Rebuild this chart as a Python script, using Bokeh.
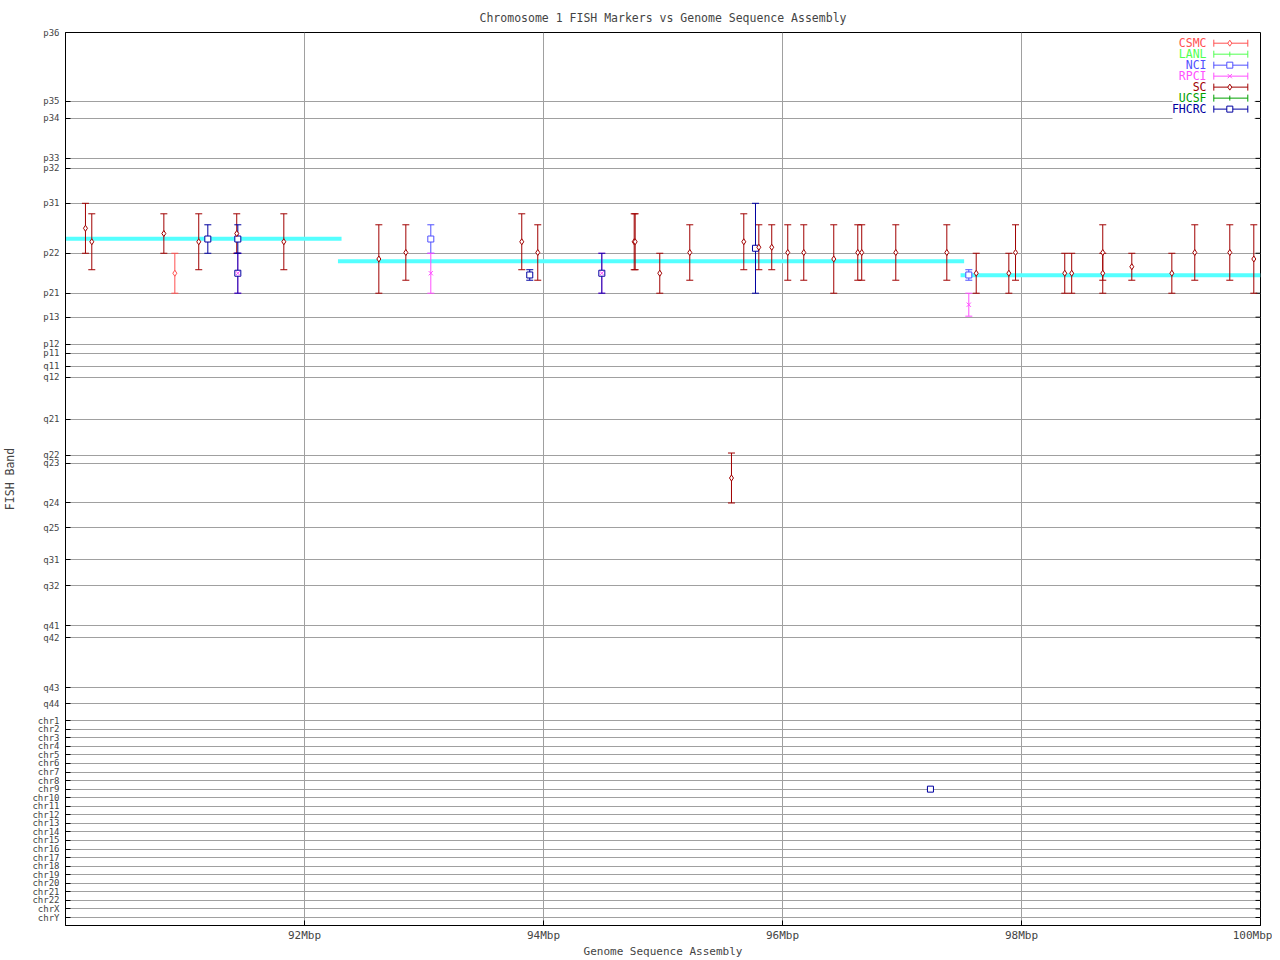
import math
from bokeh.plotting import figure
from bokeh.models import Range1d, FixedTicker, CustomJSTickFormatter
from bokeh.core.properties import value
from bokeh.embed import file_html
from bokeh.resources import INLINE

FONT = "DejaVu Sans Mono"

# ---------------- data ----------------
# FISH band scale (cytogenetic position units, p-ter at 0)
band_labels = ["p36", "p35", "p34", "p33", "p32", "p31", "p22", "p21", "p13", "p12", "p11",
               "q11", "q12", "q21", "q22", "q23", "q24", "q25", "q31", "q32", "q41", "q42",
               "q43", "q44",
               "chr1", "chr2", "chr3", "chr4", "chr5", "chr6", "chr7", "chr8", "chr9", "chr10",
               "chr11", "chr12", "chr13", "chr14", "chr15", "chr16", "chr17", "chr18", "chr19",
               "chr20", "chr21", "chr22", "chrX", "chrY"]
band_pos = [0, 69, 86, 126, 136, 171, 221, 261, 285, 312, 321,
            334, 345, 387, 423, 431, 471, 496, 528, 554, 594, 606,
            656, 672,
            689.0, 697.6, 706.1, 714.7, 723.3, 731.8, 740.4, 749.0, 757.5, 766.1,
            774.7, 783.2, 791.8, 800.3, 808.9, 817.5, 826.0, 834.6, 843.2,
            851.7, 860.3, 868.9, 877.4, 886.0]

x_ticks_mbp = [92, 94, 96, 98, 100]

# genome sequence assembly placement (cyan)
asm_x0 = [90.00, 92.28, 97.49]
asm_x1 = [92.31, 97.52, 100.00]
asm_band = [206.5, 229.0, 243.0]

# FISH markers per lab: position (Mbp), band interval low / high
csmc_x = [90.915]
csmc_lo = [221]
csmc_hi = [261]

lanl_x = []
lanl_lo = []
lanl_hi = []

nci_x = [93.057, 97.559]
nci_lo = [192.5, 237.5]
nci_hi = [221, 248]

rpci_x = [91.442, 93.057, 94.488, 97.559]
rpci_lo = [221, 221, 221, 261]
rpci_hi = [261, 261, 261, 284]

sc_x = [90.167, 90.220, 90.823, 91.115, 91.433, 91.827, 92.622, 92.848, 93.818, 93.952,
        94.759, 94.767, 94.973, 95.224, 95.573, 95.676, 95.802, 95.910, 96.044, 96.178,
        96.429, 96.630, 96.663, 96.948, 97.375, 97.621, 97.894, 97.950, 98.362, 98.420,
        98.680, 98.680, 98.923, 99.258, 99.450, 99.743, 99.944]
sc_lo = [171, 181.5, 181.5, 181.5, 181.5, 181.5, 192.5, 192.5, 181.5, 192.5,
         181.5, 181.5, 221, 192.5, 421, 181.5, 192.5, 192.5, 192.5, 192.5,
         192.5, 192.5, 192.5, 192.5, 192.5, 221, 221, 192.5, 221, 221,
         192.5, 221, 221, 221, 192.5, 192.5, 192.5]
sc_hi = [221, 237.5, 221, 237.5, 221, 237.5, 261, 248, 237.5, 248,
         237.5, 237.5, 261, 248, 471, 237.5, 237.5, 237.5, 248, 248,
         261, 248, 248, 248, 248, 261, 261, 248, 261, 261,
         248, 261, 248, 261, 248, 248, 261]

ucsf_x = []
ucsf_lo = []
ucsf_hi = []

fhcrc_x = [91.191, 91.442, 91.442, 93.885, 94.488, 95.774, 97.238]
fhcrc_lo = [192.5, 192.5, 221, 237.5, 221, 171, 757.5]
fhcrc_hi = [221, 221, 261, 248, 261, 261, 757.5]

labs = ["CSMC", "LANL", "NCI", "RPCI", "SC", "UCSF", "FHCRC"]
lab_colors = {"CSMC": "#ff5050", "LANL": "#50ff50", "NCI": "#5050ff", "RPCI": "#ff50ff",
              "SC": "#a00000", "UCSF": "#00a000", "FHCRC": "#0000a0"}
lab_markers = {"CSMC": "diamond", "LANL": "tick", "NCI": "square", "RPCI": "x",
               "SC": "diamond", "UCSF": "tick", "FHCRC": "square"}
lab_data = {"CSMC": (csmc_x, csmc_lo, csmc_hi), "LANL": (lanl_x, lanl_lo, lanl_hi),
            "NCI": (nci_x, nci_lo, nci_hi), "RPCI": (rpci_x, rpci_lo, rpci_hi),
            "SC": (sc_x, sc_lo, sc_hi), "UCSF": (ucsf_x, ucsf_lo, ucsf_hi),
            "FHCRC": (fhcrc_x, fhcrc_lo, fhcrc_hi)}

# ---------------- figure ----------------
X0, X1 = 90.0, 100.0
Y_TOP, Y_BOT = 0.0, 894.0

p = figure(width=1272, height=960, x_range=Range1d(X0, X1), y_range=Range1d(Y_BOT, Y_TOP),
           output_backend="svg", toolbar_location=None,
           min_border_left=65, min_border_right=12, min_border_top=32, min_border_bottom=34)

p.title.text = "Chromosome 1 FISH Markers vs Genome Sequence Assembly"
p.title.align = "center"
p.title.text_font = FONT
p.title.text_font_size = "11.5px"
p.title.text_font_style = "normal"
p.title.standoff = 16

p.outline_line_color = "black"
p.outline_line_alpha = 1.0
p.background_fill_color = "white"
p.border_fill_color = "white"

# x axis
p.xaxis.ticker = FixedTicker(ticks=x_ticks_mbp)
p.xaxis.formatter = CustomJSTickFormatter(code="return tick + 'Mbp';")
p.xaxis.axis_label = "Genome Sequence Assembly"
p.xaxis.axis_label_text_font = FONT
p.xaxis.axis_label_text_font_size = "11px"
p.xaxis.axis_label_text_font_style = "normal"
p.xaxis.axis_label_standoff = 0
p.xaxis.major_label_text_font = FONT
p.xaxis.major_label_text_font_size = "11px"
p.xaxis.major_label_standoff = 3
p.xaxis.major_tick_in = 5
p.xaxis.major_tick_out = 0
p.xaxis.minor_tick_line_color = None
p.xaxis.axis_line_color = "black"

# y axis
fmt = CustomJSTickFormatter(args=dict(labels=band_labels, pos=band_pos), code="""
let best = 0, bd = 1e12;
for (let i = 0; i < pos.length; i++) {
  const d = Math.abs(pos[i] - tick);
  if (d < bd) { bd = d; best = i; }
}
return labels[best];
""")
p.yaxis.ticker = FixedTicker(ticks=band_pos)
p.yaxis.formatter = fmt
p.yaxis.axis_label = "FISH Band"
p.yaxis.axis_label_text_font = FONT
p.yaxis.axis_label_text_font_size = "11.5px"
p.yaxis.axis_label_text_font_style = "normal"
p.yaxis.axis_label_standoff = 12
p.yaxis.major_label_text_font = FONT
p.yaxis.major_label_text_font_size = "9px"
p.yaxis.major_label_standoff = 6
p.yaxis.major_tick_in = 5
p.yaxis.major_tick_out = 0
p.yaxis.minor_tick_line_color = None
p.yaxis.axis_line_color = "black"

p.xgrid.ticker = FixedTicker(ticks=x_ticks_mbp)
p.ygrid.ticker = FixedTicker(ticks=band_pos)
p.xgrid.grid_line_color = "#a0a0a0"
p.ygrid.grid_line_color = "#a0a0a0"

px_per_mbp = 1195 / 10.0


def lx(px):  # pixel offset from page left -> x coordinate (layout helper)
    return X0 + (px - 65) / px_per_mbp


def ly(px):  # pixel offset from page top -> y coordinate (layout helper)
    return px - 32


# inward tick marks along the right frame edge
p.segment(x0=[X1 - 5 / px_per_mbp] * len(band_pos), y0=band_pos,
          x1=[X1] * len(band_pos), y1=band_pos, line_color="black", line_width=1)

# ---------------- assembly line ----------------
p.segment(x0=asm_x0, y0=asm_band, x1=asm_x1, y1=asm_band, line_color="#55ffff", line_width=4)

# ---------------- error bars ----------------
for lab in labs:
    xs, lo, hi = lab_data[lab]
    if not xs:
        continue
    c = lab_colors[lab]
    p.segment(x0=xs, y0=lo, x1=xs, y1=hi, line_color=c, line_width=1)
    p.scatter(x=xs, y=lo, marker="dash", size=7, line_color=c, line_width=1)
    p.scatter(x=xs, y=hi, marker="dash", size=7, line_color=c, line_width=1)


def draw_marker(lab, xs, ys, size=6):
    c = lab_colors[lab]
    m = lab_markers[lab]
    if m == "tick":
        p.scatter(x=xs, y=ys, marker="dash", angle=math.pi / 2, size=5, line_color=c)
    elif m == "x":
        p.scatter(x=xs, y=ys, marker="x", size=6, line_color=c, line_width=1)
    else:
        p.scatter(x=xs, y=ys, marker=m, size=size, line_color=c, fill_color="white",
                  line_width=1)


for lab in ["NCI", "FHCRC", "CSMC", "SC", "LANL", "UCSF", "RPCI"]:
    xs, lo, hi = lab_data[lab]
    if not xs:
        continue
    mid = [(a + b) / 2 for a, b in zip(lo, hi)]
    draw_marker(lab, xs, mid)

# ---------------- legend ----------------
p.quad(left=[lx(1172)], right=[lx(1254)], top=[ly(35)], bottom=[ly(120)],
       fill_color="white", line_color=None)
rows_y = [ly(42.7 + 11 * i) for i in range(len(labs))]
p.text(x=[lx(1206)] * len(labs), y=rows_y, text=labs,
       text_color=[lab_colors[l] for l in labs], text_align="right", text_baseline="middle",
       text_font=value(FONT), text_font_size="11.5px")
for lab, yy in zip(labs, rows_y):
    c = lab_colors[lab]
    p.segment(x0=[lx(1213.3)], y0=[yy], x1=[lx(1247.3)], y1=[yy], line_color=c, line_width=1)
    p.scatter(x=[lx(1213.3), lx(1247.3)], y=[yy, yy], marker="dash", angle=math.pi / 2,
              size=7, line_color=c)
    draw_marker(lab, [lx(1229.3)], [yy])

open("out.html", "w").write(file_html(p, INLINE))
